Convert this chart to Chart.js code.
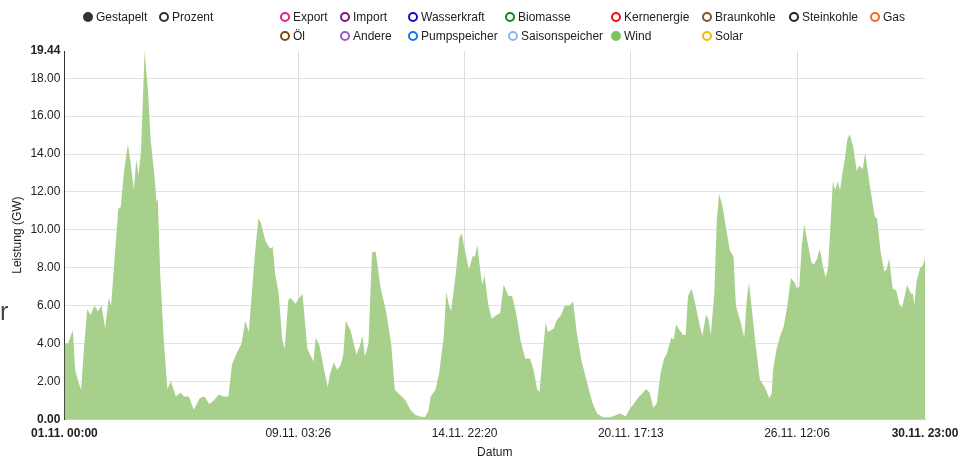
<!DOCTYPE html>
<html>
<head>
<meta charset="utf-8">
<script src="https://cdn.jsdelivr.net/npm/chart.js@4"></script>
<style>
  body { margin: 0; background: #fff; font-family: "Liberation Sans", Arial, sans-serif; }
  #wrap { position: relative; width: 971px; height: 456px; overflow: hidden; }
  #chart { position: absolute; left: 0; top: 0; }
  .item { position: absolute; font-size: 12px; color: #222; white-space: nowrap; line-height: 14px; }
  .dot { position: absolute; width: 10px; height: 10px; border-radius: 50%; box-sizing: border-box; border: 2px solid; left: -5px; top: 2px; }
  .item span { position: absolute; left: 8px; top: 0; }
  #stray { position: absolute; left: 0; top: 297px; font-size: 25px; color: #444; }
</style>
</head>
<body>
<div id="wrap">
  <canvas id="chart" width="971" height="460"></canvas>
  <div id="legend"></div>
  <div id="stray">r</div>
</div>
<script>
// Stunde seit 01.11. 00:00 und Windleistung in GW
const hours = [0,3,7,9,12,14,16,19,22,25,28,31,34,37,39,42,45,47,50,53,55,58,60,62,64,67,70,72,75,77,78,80,83,86,89,93,97,100,104,108,109,113,
  117,121,125,129,133,137,140,144,148,151,154,157,159,162,164,168,172,174,176,179,182,184,187,189,193,196,199,201,203,208,210,213,217,220,222,225,228,231,
  233,235,239,244,247,249,251,254,257,260,264,269,273,276,280,285,289,293,297,301,304,306,310,313,317,319,321,323,327,330,332,334,338,341,343,345,347,
  349,351,354,357,361,364,367,371,374,376,378,381,385,389,392,395,397,399,402,404,409,411,415,418,422,425,428,432,436,441,445,450,456,460,464,
  469,473,475,480,482,486,489,492,495,498,501,503,507,509,511,514,517,519,521,524,527,531,533,536,538,540,543,545,547,550,553,556,559,561,565,568,570,572,574,577,581,
  585,589,591,592,595,598,601,604,607,610,612,614,616,618,621,624,626,629,631,634,636,638,640,642,644,646,648,650,652,654,656,659,662,664,667,669,673,677,679,682,685,687,689,692,695,698,700,702,704,707,709,710,712,715,717,719];
const wind = [4.0,4.0,4.7,2.6,1.9,1.55,3.5,5.8,5.5,6.0,5.7,6.0,4.8,6.4,6.0,8.6,11.1,11.2,13.2,14.5,13.7,12.1,13.7,12.9,14.2,19.44,17.2,14.75,13.0,11.5,11.6,7.7,4.2,1.6,2.0,1.2,1.4,1.2,1.2,0.5,0.6,1.1,
  1.2,0.8,1.0,1.3,1.2,1.2,2.9,3.5,4.0,5.2,4.6,7.0,8.6,10.6,10.4,9.4,9.0,9.1,7.7,6.65,4.2,3.7,6.3,6.4,6.1,6.4,6.6,5.1,3.7,3.05,4.3,3.9,2.6,1.7,2.4,3.0,2.6,2.9,
  3.4,5.2,4.7,3.4,3.9,4.4,3.3,4.0,8.8,8.85,7.0,5.6,4.0,1.55,1.3,1.0,0.5,0.23,0.14,0.1,0.4,1.2,1.55,2.4,4.4,6.7,6.1,5.7,7.7,9.6,9.8,9.1,7.9,8.6,8.6,9.2,8.1,
  7.1,7.6,6.1,5.3,5.5,5.6,7.1,6.5,6.5,6.0,5.4,4.2,3.2,3.2,2.6,1.55,1.45,3.0,5.1,4.6,4.8,5.2,5.5,6.0,6.0,6.2,4.6,3.1,2.1,0.9,0.3,0.1,0.1,0.2,0.3,
  0.15,0.6,0.75,1.2,1.3,1.6,1.4,0.6,0.85,2.4,3.2,3.4,4.3,4.2,5.0,4.7,4.45,4.45,6.5,6.9,6.1,4.9,4.4,5.5,5.3,4.45,6.65,10.5,11.9,11.2,10.0,8.9,8.6,6.0,5.1,4.3,6.3,7.2,6.0,4.2,2.1,
  1.7,1.1,1.4,2.6,3.7,4.4,4.9,6.0,7.45,7.2,6.9,7.0,9.1,10.3,9.3,8.3,8.15,8.5,9.0,8.0,7.5,8.0,10.2,12.55,12.1,12.55,12.1,13.0,13.7,14.75,15.05,14.4,13.1,13.4,13.2,14.05,12.3,10.7,10.6,8.8,7.8,7.9,8.5,6.9,6.8,6.0,5.9,6.5,7.1,6.65,6.6,6.0,7.3,8.0,8.1,8.5];

const yTicks = [0, 2, 4, 6, 8, 10, 12, 14, 16, 18, 19.44];
const xTickHours = [0, 195.43, 334.33, 473.22, 612.1, 719];
const xTickLabels = ['01.11. 00:00', '09.11. 03:26', '14.11. 22:20', '20.11. 17:13', '26.11. 12:06', '30.11. 23:00'];

const legendRows = [
  [
    { label: 'Gestapelt', x: 88, color: '#333', filled: true },
    { label: 'Prozent', x: 164, color: '#333' },
    { label: 'Export', x: 285, color: '#e0218a' },
    { label: 'Import', x: 345, color: '#7b1a7b' },
    { label: 'Wasserkraft', x: 413, color: '#1010c8' },
    { label: 'Biomasse', x: 510, color: '#10871a' },
    { label: 'Kernenergie', x: 616, color: '#ee1111' },
    { label: 'Braunkohle', x: 707, color: '#7a5530' },
    { label: 'Steinkohle', x: 794, color: '#222' },
    { label: 'Gas', x: 875, color: '#f26b1d' }
  ],
  [
    { label: 'Öl', x: 285, color: '#7a4e10' },
    { label: 'Andere', x: 345, color: '#9a5cc6' },
    { label: 'Pumpspeicher', x: 413, color: '#1177ee' },
    { label: 'Saisonspeicher', x: 513, color: '#8cb8f0' },
    { label: 'Wind', x: 616, color: '#7cc263', filled: true },
    { label: 'Solar', x: 707, color: '#f5b800' }
  ]
];

const legendEl = document.getElementById('legend');
legendRows.forEach((row, r) => {
  row.forEach(item => {
    const div = document.createElement('div');
    div.className = 'item';
    div.style.left = item.x + 'px';
    div.style.top = (r === 0 ? 10 : 29) + 'px';
    const dot = document.createElement('div');
    dot.className = 'dot';
    dot.style.borderColor = item.color;
    if (item.filled) dot.style.background = item.color;
    const txt = document.createElement('span');
    txt.textContent = item.label;
    div.appendChild(dot);
    div.appendChild(txt);
    legendEl.appendChild(div);
  });
});

const points = hours.map((h, i) => ({ x: h, y: wind[i] }));

const ctx = document.getElementById('chart').getContext('2d');
new Chart(ctx, {
  type: 'line',
  data: {
    datasets: [{
      label: 'Wind',
      data: points,
      fill: 'origin',
      backgroundColor: 'rgb(168, 208, 141)',
      borderWidth: 0,
      pointRadius: 0,
      tension: 0
    }]
  },
  options: {
    responsive: false,
    animation: false,
    layout: { padding: { top: 51, right: 46, bottom: 0, left: 10 } },
    plugins: { legend: { display: false }, tooltip: { enabled: false } },
    scales: {
      x: {
        type: 'linear',
        min: 0,
        max: 719,
        afterBuildTicks: scale => { scale.ticks = xTickHours.map(v => ({ value: v })); },
        ticks: {
          autoSkip: false,
          maxRotation: 0,
          padding: 7,
          color: '#222',
          font: c => ({ family: 'Liberation Sans', size: 12, weight: (c.index === 0 || c.index === xTickHours.length - 1) ? 'bold' : 'normal' }),
          callback: (v, i) => xTickLabels[i]
        },
        grid: {
          drawTicks: false,
          color: c => (c.index === 0 || c.index === xTickHours.length - 1) ? 'rgba(0,0,0,0)' : '#dddddd'
        },
        border: { color: '#cccccc' },
        title: { display: true, text: 'Datum', color: '#222', font: { family: 'Liberation Sans', size: 12 }, padding: { top: -2, bottom: 0 } }
      },
      y: {
        min: 0,
        max: 19.44,
        afterBuildTicks: scale => { scale.ticks = yTicks.map(v => ({ value: v })); },
        ticks: {
          padding: 4,
          color: '#222',
          font: c => ({ family: 'Liberation Sans', size: 12, weight: (c.index === 0 || c.index === yTicks.length - 1) ? 'bold' : 'normal' }),
          callback: v => Number(v).toFixed(2)
        },
        grid: {
          drawTicks: false,
          color: c => (c.index === 0 || c.index === yTicks.length - 1) ? 'rgba(0,0,0,0)' : '#e2e2e2'
        },
        border: { color: '#333333' },
        title: { display: true, text: 'Leistung (GW)', color: '#222', font: { family: 'Liberation Sans', size: 12 }, padding: { top: 0, bottom: 2 } }
      }
    }
  }
});
</script>
</body>
</html>
